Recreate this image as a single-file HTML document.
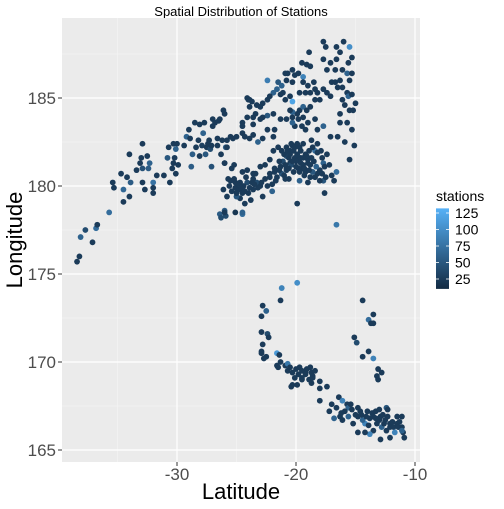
<!DOCTYPE html>
<html><head><meta charset="utf-8"><style>
body{margin:0;background:#fff;}
svg text{font-family:"Liberation Sans",sans-serif;}
</style></head><body>
<svg id="chart" width="504" height="504" viewBox="0 0 504 504" xmlns="http://www.w3.org/2000/svg">
<text x="241" y="16" font-size="13" text-anchor="middle" fill="#000">Spatial Distribution of Stations</text>
<rect x="62" y="18" width="358" height="444" fill="#ebebeb"/>
<g id="grid"></g>
<g id="points"></g>
<g id="axes"></g>
<text x="241" y="499" font-size="22" text-anchor="middle" fill="#000">Latitude</text>
<text transform="translate(22,240) rotate(-90)" font-size="22" text-anchor="middle" fill="#000">Longitude</text>
<g id="legend"></g>
</svg>
<script>
const xTicks=[-30,-20,-10];
const xMinor=[-35,-25,-15];
const yTicks=[165,170,175,180,185];
const yMinor=[167.5,172.5,177.5,182.5,187.5];
const legendTicks=[25,50,75,100,125];
const stationRange=[10,132];
// [latitude, longitude, stations]
const quakes=[
[-38.4,175.7,25],[-38.2,176.0,25],[-38.1,177.1,60],[-37.7,177.5,40],[-37.1,176.8,25],[-36.8,177.6,70],[-36.7,177.8,25],[-35.7,178.5,70],
[-35.4,180.2,25],[-35.3,179.9,25],[-34.7,180.7,25],[-34.5,179.8,65],[-34.5,179.1,25],[-34.2,180.5,25],[-34.0,179.4,25],[-33.9,180.2,55],
[-34.0,181.8,25],[-33.4,180.9,25],[-33.1,181.3,25],[-32.9,181.0,45],[-33.0,181.6,25],[-32.9,182.4,25],[-32.9,180.2,25],[-32.7,179.8,25],
[-32.5,181.7,25],[-32.4,181.0,55],[-32.3,181.3,60],[-32.0,180.2,75],[-32.0,179.9,25],[-32.0,179.6,25],[-31.7,180.6,25],[-31.1,180.6,25],
[-30.8,181.6,50],[-30.6,180.2,25],[-30.7,182.2,25],[-30.4,181.0,25],[-30.3,181.3,25],[-30.2,181.6,25],[-30.1,180.7,25],[-30.3,182.4,25],
[-30.0,182.4,25],[-30.1,182.1,60],[-29.9,181.2,25],[-29.4,182.3,25],[-29.0,183.2,25],[-29.2,182.8,60],[-28.9,182.7,25],[-28.8,181.1,55],
[-28.7,181.8,55],[-28.5,183.6,25],[-28.4,182.2,25],[-28.2,182.6,25],[-28.1,181.7,25],[-28.1,183.5,25],[-27.9,182.3,30],[-27.8,183.0,60],
[-27.7,183.6,25],[-27.6,181.8,50],[-27.5,182.2,25],[-27.4,182.4,25],[-27.3,182.6,25],[-27.2,182.1,40],[-27.1,181.1,45],[-27.1,182.3,25],
[-27.0,183.4,25],[-27.0,183.8,25],[-26.8,183.6,25],[-26.6,182.3,25],[-26.5,183.7,25],[-26.6,182.7,25],[-26.3,181.8,25],[-26.1,184.3,25],
[-26.0,184.1,25],[-26.0,181.3,25],[-25.8,182.6,25],[-25.9,182.2,55],[-25.5,182.8,25],[-25.4,181.0,25],[-25.3,182.7,25],[-25.2,181.2,25],
[-25.1,180.2,25],[-25.0,182.8,25],[-24.7,179.3,25],[-24.5,183.6,25],[-24.5,180.8,25],[-24.5,178.4,70],[-25.1,178.5,20],[-26.4,178.4,55],
[-26.0,178.6,55],[-25.9,178.3,40],[-26.3,178.2,40],[-24.1,185.0,25],[-23.9,184.9,25],[-23.6,183.5,25],
[-26.4,183.8,25],[-26.2,182.6,25],[-25.8,182.2,25],[-26.0,181.3,25],[-25.5,180.3,25],[-25.1,179.9,25],[-24.7,180.2,25],[-24.1,180.2,40],
[-23.7,180.2,25],[-23.3,180.2,40],[-23.6,179.8,25],[-24.5,179.6,25],[-25.0,179.4,50],[-24.3,179.0,25],[-26.0,178.5,25],[-24.5,178.5,60],
[-22.8,179.4,25],[-22.0,179.7,60],[-22.2,180.5,25],[-21.8,180.8,25],[-21.3,181.1,25],[-21.1,181.4,40],[-20.8,181.7,40],[-20.5,182.0,25],
[-20.3,182.3,25],[-19.9,182.4,25],[-19.7,182.2,25],[-19.4,182.4,25],[-20.8,180.9,25],[-21.2,180.7,45],[-21.6,180.5,25],[-20.5,181.3,25],
[-20.1,181.6,25],[-19.8,181.5,25],[-19.5,181.0,25],[-19.3,180.6,25],[-19.7,180.3,60],[-19.9,179.0,25],[-19.0,181.3,25],[-18.7,181.6,25],
[-18.4,182.0,70],[-18.2,181.9,25],[-17.8,181.6,25],[-17.7,181.3,60],[-17.6,181.1,25],[-18.0,180.9,25],[-18.2,180.7,25],[-17.7,180.3,50],
[-17.6,179.6,25],[-16.6,180.8,70],[-16.6,177.8,80],[-15.5,181.5,25],[-15.1,182.3,25],[-15.9,182.5,25],[-16.5,182.8,25],[-17.1,182.8,25],
[-17.7,183.4,60],[-18.2,183.2,25],[-18.4,183.8,25],[-19.0,183.6,25],[-19.2,183.2,25],[-19.5,183.4,25],[-20.1,183.4,25],[-20.3,183.6,60],
[-20.8,183.8,25],[-21.3,183.8,25],[-21.9,184.1,25],[-22.4,184.0,50],[-22.8,183.9,25],[-23.0,183.8,25],[-23.6,183.9,25],[-24.1,183.9,25],
[-24.5,183.4,25],[-24.5,183.0,25],[-24.3,182.8,25],[-23.9,182.7,25],[-23.6,182.9,25],[-23.2,182.5,60],[-22.8,182.7,25],[-22.4,183.2,25],
[-21.9,182.8,25],[-21.8,183.2,25],[-21.5,182.2,25],[-21.9,182.0,25],[-22.2,181.5,25],[-22.6,181.2,25],[-23.0,181.1,25],[-23.6,180.7,25],
[-19.7,184.3,25],[-19.4,184.5,60],[-19.9,184.1,25],[-20.3,184.2,60],[-20.5,184.3,25],[-19.1,184.3,25],[-18.8,184.5,25],[-19.4,183.9,25],
[-19.8,183.8,25],[-20.3,183.9,25],[-20.3,184.8,120],[-20.5,185.1,25],[-20.9,184.9,25],[-21.1,185.3,25],[-21.3,185.2,25],[-21.6,185.5,60],
[-21.9,185.3,60],[-22.2,185.1,25],[-22.4,184.9,25],[-22.8,184.7,25],[-23.0,184.5,25],[-23.3,184.6,25],[-23.7,184.8,25],[-24.0,184.9,25],
[-23.9,184.5,25],[-23.4,184.1,25],[-22.4,186.0,85],[-21.5,185.9,50],[-21.2,185.7,60],[-20.8,186.0,25],[-20.7,186.4,25],[-20.3,186.6,25],
[-20.1,186.3,25],[-19.8,186.4,25],[-19.5,187.0,25],[-19.4,186.2,90],[-19.1,186.9,25],[-18.8,186.8,25],[-19.0,185.7,25],[-19.7,185.3,25],
[-19.2,185.3,25],[-18.8,185.3,25],[-18.4,185.5,25],[-18.2,185.3,25],[-18.0,184.9,25],[-18.4,184.9,25],[-17.7,185.5,25],[-17.4,185.3,25],
[-17.1,185.1,25],[-17.0,185.9,25],[-16.7,185.9,25],[-16.3,186.0,25],[-16.5,185.6,25],[-16.1,185.6,25],[-15.7,185.3,25],[-15.6,185.1,60],
[-15.3,185.2,25],[-15.0,184.7,25],[-15.9,184.6,25],[-16.1,184.9,25],[-15.5,184.3,25],[-15.2,184.3,25],[-16.3,184.1,25],[-16.3,183.6,25],
[-15.7,183.6,25],[-15.3,183.2,25],[-15.6,187.0,25],[-15.3,187.3,25],[-15.7,186.4,60],[-15.5,186.0,25],[-15.3,186.4,25],[-16.3,187.6,25],
[-16.6,187.2,25],[-17.1,187.0,25],[-17.7,187.2,25],[-17.4,186.6,25],[-16.7,186.6,25],[-16.1,186.6,25],[-16.6,187.9,25],[-16.0,188.2,25],
[-15.5,187.9,100],[-17.7,188.2,25],[-17.5,187.9,25],[-18.9,187.6,25],[-18.5,185.9,25],[-19.4,185.9,25],[-20.3,185.9,25],[-20.9,186.4,25],
[-20.8,181.0,25],[-20.4,181.2,40],[-20.0,181.4,25],[-19.6,181.6,25],[-20.2,180.8,25],[-19.8,181.0,25],[-19.4,181.2,25],[-19.0,181.5,25],
[-18.8,181.2,25],[-18.6,180.8,50],[-18.4,180.5,25],[-18.0,180.3,25],[-19.2,180.8,25],[-20.6,181.6,25],[-20.2,182.0,25],[-19.6,182.0,25],
[-19.2,181.8,25],[-21.0,181.8,25],[-20.8,182.2,25],[-20.4,182.4,25],[-21.4,181.4,25],[-21.8,181.0,25],[-22.2,180.7,25],[-22.6,180.4,25],
[-23.0,180.0,25],[-21.0,180.6,25],[-20.6,180.4,25],[-18.6,182.2,25],[-18.2,182.4,25],[-17.9,182.0,25],[-17.4,181.8,25],[-17.2,181.2,25],
[-17.0,180.6,25],[-16.8,180.3,25],[-25.6,180.0,25],[-25.2,180.4,25],[-24.8,179.8,25],[-24.4,180.0,25],[-24.0,179.6,25],[-23.6,180.4,25],
[-23.2,179.9,25],[-22.9,180.2,25],[-25.0,179.6,25],[-24.2,180.5,25],[-25.8,179.4,25],[-23.8,179.2,25],
[-20.9,181.2,25],[-20.6,181.0,25],[-20.3,181.4,25],[-20.0,181.1,25],[-19.7,180.8,25],[-19.6,181.3,25],[-19.3,181.0,25],[-19.1,181.7,25],
[-20.1,182.2,25],[-20.7,182.0,25],[-21.2,182.0,25],[-20.5,181.8,25],[-19.9,181.8,25],[-19.4,181.6,25],[-18.9,180.9,25],[-18.5,181.4,25],
[-18.3,181.1,60],[-18.8,180.5,25],[-19.0,180.2,25],[-21.4,180.9,25],[-21.7,180.3,25],[-22.0,180.1,25],[-22.4,180.0,25],[-20.9,180.4,25],
[-25.4,179.7,25],[-24.9,180.1,25],[-24.6,179.9,25],[-24.3,179.7,25],[-23.9,179.9,25],[-23.5,180.1,25],[-25.7,180.4,25],[-26.1,179.8,25],
[-24.1,180.9,25],[-23.4,180.7,25],[-17.8,180.7,25],[-17.5,180.5,25],[-18.9,182.0,25],[-18.7,182.6,25],
[-21.2,174.2,90],[-19.9,174.5,100],[-21.3,173.5,25],[-22.8,173.2,25],[-22.5,172.9,60],[-22.9,172.6,25],[-22.9,171.7,25],[-22.4,171.6,40],
[-22.3,171.4,25],[-22.8,171.0,25],[-22.9,170.6,25],[-22.9,170.5,25],[-22.5,170.3,25],[-22.7,170.2,25],[-21.6,170.5,110],[-21.4,170.4,25],
[-21.3,170.0,25],[-21.6,169.8,25],[-21.5,169.7,25],[-20.9,169.8,25],[-20.7,169.9,80],[-20.5,169.7,25],[-20.7,169.5,25],[-20.3,169.4,25],
[-19.7,169.7,25],[-19.5,169.5,25],[-19.2,169.4,25],[-19.2,169.3,25],[-19.1,169.6,25],[-18.8,169.7,25],[-18.7,169.4,25],[-18.6,169.2,25],
[-18.9,169.0,25],[-19.5,169.0,25],[-19.5,169.1,25],[-20.1,169.1,25],[-20.3,168.7,25],[-20.4,168.6,25],[-18.7,168.8,25],[-18.6,169.1,25],
[-18.0,168.9,25],[-18.0,168.5,25],[-17.4,168.6,25],[-18.0,167.8,25],[-17.0,167.6,25],[-16.6,167.4,25],[-16.4,168.0,25],[-16.1,167.8,90],
[-15.7,167.6,25],[-15.6,167.4,60],[-16.3,166.9,25],[-16.1,166.7,25],[-15.9,167.2,25],[-15.3,167.3,25],[-15.2,166.5,25],[-15.6,166.9,60],
[-14.8,167.4,25],[-14.6,167.2,25],[-14.8,166.9,25],[-14.2,166.5,90],[-14.0,167.2,25],[-13.6,167.1,25],[-13.5,166.9,25],[-13.3,167.2,25],
[-12.9,166.9,25],[-12.7,167.0,25],[-12.4,167.4,50],[-12.3,166.9,25],[-12.5,166.7,25],[-12.1,166.5,25],[-13.2,166.5,25],[-13.5,166.1,25],
[-13.9,166.4,25],[-13.8,165.9,90],[-14.2,166.0,25],[-14.8,166.0,25],[-12.9,165.6,25],[-12.8,166.3,60],[-12.1,166.3,25],[-11.8,166.3,25],
[-11.7,166.0,90],[-11.5,166.5,25],[-11.4,166.3,25],[-11.1,166.3,25],[-11.0,166.0,25],[-11.1,166.1,60],[-10.9,165.7,25],[-12.1,165.7,25],
[-11.5,166.9,25],[-11.1,166.9,25],[-12.3,167.3,25],[-14.4,173.5,25],[-13.5,172.7,25],[-13.9,172.4,70],[-13.7,172.2,25],[-13.5,172.2,25],
[-15.1,171.4,25],[-14.9,171.1,40],[-13.9,170.6,25],[-14.4,170.3,25],[-13.5,170.2,90],[-13.1,169.6,25],[-12.8,169.4,25],[-13.2,169.2,25],
[-13.1,169.0,25],[-19.9,168.7,25],[-16.8,166.8,60],[-17.2,167.2,25],[-15.0,167.0,25],[-14.4,166.7,60],[-13.0,167.3,25],
[-16.2,167.1,25],[-15.4,167.6,25],[-14.5,167.0,25],[-13.8,166.8,25],[-13.0,166.7,25],[-12.6,166.5,25],[-11.9,166.6,25],[-11.3,166.6,25],
[-12.4,166.1,25],[-13.3,166.8,25],[-14.1,166.9,25],[-19.8,169.3,25],[-20.0,169.6,25],[-18.4,169.5,25]
];
const NS="http://www.w3.org/2000/svg";
const X0=62,X1=420,Y0=18,Y1=462;
function xs(v){return 296+(v+20)*11.9;}
function ys(v){return 186-(v-180)*17.6;}
function mk(tag,attrs,parent){const e=document.createElementNS(NS,tag);for(const k in attrs)e.setAttribute(k,attrs[k]);parent.appendChild(e);return e;}
function col(s){const t=Math.max(0,Math.min(1,(s-stationRange[0])/(stationRange[1]-stationRange[0])));
const a=[0x13,0x2B,0x43],b=[0x56,0xB1,0xF7];return 'rgb('+a.map((c,i)=>Math.round(c+(b[i]-c)*t)).join(',')+')';}
const grid=document.getElementById('grid');
xMinor.forEach(v=>{const l=mk('line',{x1:xs(v),x2:xs(v),y1:Y0,y2:Y1,stroke:'#f5f5f5','stroke-width':0.6},grid);

});
yMinor.forEach(v=>{const l=mk('line',{x1:X0,x2:X1,y1:ys(v),y2:ys(v),stroke:'#f5f5f5','stroke-width':0.6},grid);

});
const axes=document.getElementById('axes');
xTicks.forEach(v=>{const l=mk('line',{x1:xs(v),x2:xs(v),y1:Y0,y2:Y1,stroke:'#fff','stroke-width':1.2},grid);


const tk=mk('line',{x1:xs(v),x2:xs(v),y1:Y1,y2:Y1+4,stroke:'#333','stroke-width':1},axes);


const t=mk('text',{x:xs(v),y:Y1+18,'font-size':17,'text-anchor':'middle',fill:'#4d4d4d'},axes);t.textContent=v;

});
yTicks.forEach(v=>{const l=mk('line',{x1:X0,x2:X1,y1:ys(v),y2:ys(v),stroke:'#fff','stroke-width':1.2},grid);


const tk=mk('line',{x1:X0-4,x2:X0,y1:ys(v),y2:ys(v),stroke:'#333','stroke-width':1},axes);


const t=mk('text',{x:X0-6,y:ys(v)+6,'font-size':17,'text-anchor':'end',fill:'#4d4d4d'},axes);t.textContent=v;

});
const pg=document.getElementById('points');
quakes.forEach(q=>{const c=mk('circle',{cx:xs(q[0]),cy:ys(q[1]),r:2.9,fill:col(q[2])},pg);

});
const lg=document.getElementById('legend');
function ly(v){return 279-(v-25)*0.66;}
const tt=mk('text',{x:436,y:201,'font-size':14,fill:'#000'},lg);tt.textContent='stations';


const defs=mk('defs',{},lg);
const gr=mk('linearGradient',{id:'lgrad',x1:0,y1:1,x2:0,y2:0},defs);
mk('stop',{offset:0,'stop-color':col(stationRange[0])},gr);
mk('stop',{offset:1,'stop-color':col(stationRange[1])},gr);
const bar=mk('rect',{x:436,y:ly(stationRange[1]),width:13,height:ly(stationRange[0])-ly(stationRange[1]),fill:'url(#lgrad)'},lg);


legendTicks.forEach(v=>{mk('line',{x1:436,x2:439,y1:ly(v),y2:ly(v),stroke:'#fff','stroke-width':0.8},lg);
mk('line',{x1:446,x2:449,y1:ly(v),y2:ly(v),stroke:'#fff','stroke-width':0.8},lg);
const t=mk('text',{x:455,y:ly(v)+5,'font-size':14,fill:'#000'},lg);t.textContent=v;

});
</script>
</body></html>
